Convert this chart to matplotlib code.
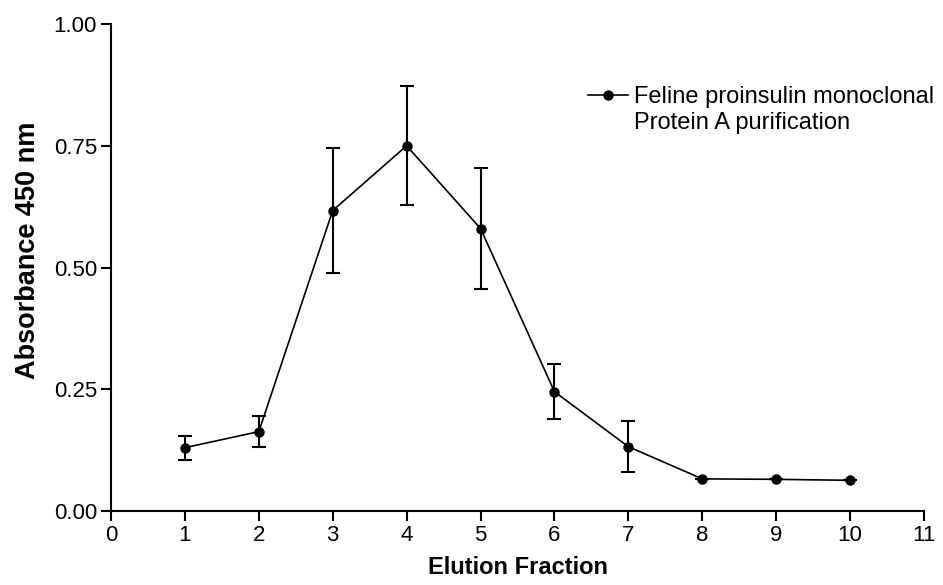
import numpy as np
import matplotlib.pyplot as plt

plt.rcParams['font.family'] = ['Liberation Sans', 'DejaVu Sans']

# Protein A purification: absorbance per elution fraction (mean and SEM)
fraction = [1, 2, 3, 4, 5, 6, 7, 8, 9, 10]
absorbance = [0.130, 0.163, 0.617, 0.750, 0.580, 0.245, 0.132, 0.066, 0.065, 0.063]
sem = [0.025, 0.032, 0.129, 0.122, 0.124, 0.056, 0.052, 0.0, 0.0, 0.0]

fig = plt.figure(figsize=(9.43, 5.85), dpi=100)
ax = fig.add_axes([111 / 943, 74 / 585, 813 / 943, 487 / 585])

ax.errorbar(fraction, absorbance, yerr=sem, fmt='none', ecolor='black',
            capsize=5, capthick=1.5, elinewidth=1.5)
ax.plot(fraction, absorbance, color='black', lw=1.2, marker='o', markersize=6.5,
        label='Feline proinsulin monoclonal')

ax.set_xlim(0, 11)
ax.set_ylim(0, 1)
ax.set_xticks(np.arange(0, 12, 1))
ax.set_yticks([0, 0.25, 0.5, 0.75, 1.0])
ax.set_yticklabels(['0.00', '0.25', '0.50', '0.75', '1.00'])
ax.tick_params(direction='out', length=7, width=1.5, labelsize=16, pad=3)
for side in ['top', 'right']:
    ax.spines[side].set_visible(False)
for side in ['left', 'bottom']:
    ax.spines[side].set_linewidth(1.5)

ax.set_xlabel('Elution Fraction', fontsize=17, fontweight='bold', labelpad=7)
ax.set_ylabel('Absorbance 450 nm', fontsize=19.5, fontweight='bold')
ax.yaxis.set_label_coords(-0.086, 0.535)

leg = ax.legend(loc='center left', bbox_to_anchor=(588 / 943, 1 - 97 / 585),
                bbox_transform=fig.transFigure, frameon=False, fontsize=17,
                handlelength=1.7, handletextpad=0.25, borderpad=0, borderaxespad=0)

# second line of the legend entry, aligned under the first
fig.canvas.draw()
first = leg.get_texts()[0].get_window_extent()
x0, y0 = fig.transFigure.inverted().transform((first.x0, first.y0))
fig.text(x0, y0 - 0.006, 'Protein A purification', fontsize=17, va='top', ha='left')

plt.savefig('out.png', dpi=100)
